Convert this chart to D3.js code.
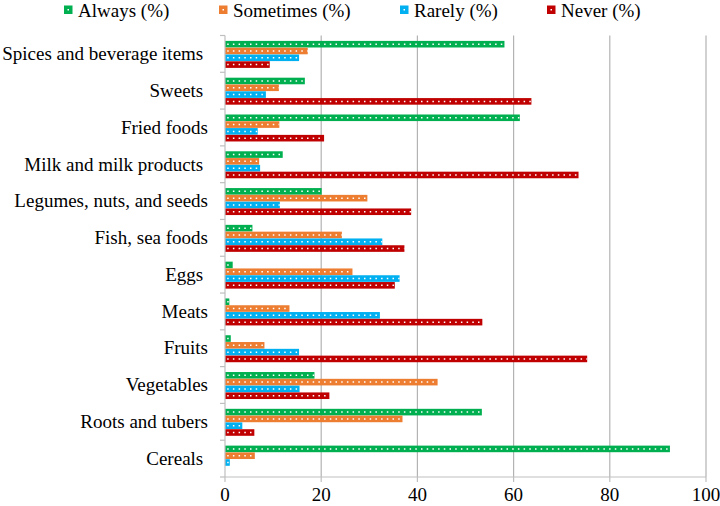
<!DOCTYPE html>
<html>
<head>
<meta charset="utf-8">
<script src="https://cdn.jsdelivr.net/npm/d3@7"></script>
<style>
  body { margin: 0; background: #fff; }
  svg text { font-family: "Liberation Serif", "DejaVu Serif", serif; fill: #000; }
</style>
</head>
<body>
<svg width="720" height="506"></svg>
<script>
// food groups, top to bottom
const categories = ["Spices and beverage items ", "Sweets ", "Fried foods", "Milk and milk products ",
  "Legumes, nuts, and seeds", "Fish, sea foods", "Eggs ", "Meats", "Fruits", "Vegetables",
  "Roots and tubers", "Cereals "]
const seriesNames = ["Always (%)", "Sometimes (%)", "Rarely (%)", "Never (%)"]
const always    = [58.1, 16.6, 61.3, 12.0, 20.1, 5.7, 1.6, 0.9, 1.2, 18.6, 53.4, 92.5]
const sometimes = [17.2, 11.2, 11.3, 7.1, 29.6, 24.3, 26.5, 13.4, 8.2, 44.2, 36.9, 6.2]
const rarely    = [15.4, 8.5, 6.8, 7.3, 11.4, 32.7, 36.3, 32.2, 15.4, 15.5, 3.6, 1.0]
const never     = [9.3, 63.7, 20.6, 73.5, 38.7, 37.3, 35.3, 53.5, 75.3, 21.7, 6.1, 0]
const xTicks = [0, 20, 40, 60, 80, 100]
const colors = ["#00b050", "#ed7d31", "#00b0f0", "#c00000"]

const values = [always, sometimes, rarely, never]

const svg = d3.select("svg")
const plotLeft = 225, plotRight = 706, plotTop = 35.5, plotBottom = 477

const x = d3.scaleLinear().domain([0, 100]).range([plotLeft, plotRight])
const y0 = d3.scaleBand().domain(categories).range([plotTop, plotBottom])
const y1 = d3.scaleBand().domain(seriesNames).range([5.4, y0.bandwidth() - 4.4]).paddingInner(0.03)
const color = d3.scaleOrdinal().domain(seriesNames).range(colors)

// vertical gridlines
svg.append("g")
  .selectAll("line")
  .data(xTicks.slice(1))
  .enter()
  .append("line")
  .attr("x1", d => x(d)).attr("x2", d => x(d))
  .attr("y1", plotTop).attr("y2", plotBottom)
  .attr("stroke", "#b3b3b3")
  .attr("stroke-width", 1.2)

// bars
const groups = svg.selectAll("g.cat")
  .data(categories)
  .enter()
  .append("g")
  .attr("class", "cat")
  .attr("transform", d => `translate(0, ${y0(d)})`)

const bars = groups.selectAll("g.bar")
  .data((d, i) => seriesNames.map((s, j) => ({ s: s, v: values[j][i] })))
  .enter()
  .append("g")
  .attr("class", "bar")
  .filter(d => d.v > 0)

bars.append("rect")
  .attr("x", x(0))
  .attr("y", d => y1(d.s))
  .attr("width", d => x(d.v) - x(0))
  .attr("height", y1.bandwidth())
  .attr("fill", d => color(d.s))

// dotted pattern
bars.append("line")
  .attr("x1", x(0) + 2.2)
  .attr("x2", d => x(d.v))
  .attr("y1", d => y1(d.s) + y1.bandwidth() / 2)
  .attr("y2", d => y1(d.s) + y1.bandwidth() / 2)
  .attr("stroke", "#fff")
  .attr("stroke-width", 1.5)
  .attr("stroke-dasharray", "1.5 4.2")

// left axis
const axisColor = "#bfbfbf"
svg.append("line")
  .attr("x1", plotLeft).attr("x2", plotLeft)
  .attr("y1", plotTop).attr("y2", plotBottom)
  .attr("stroke", axisColor).attr("stroke-width", 1.2)

svg.append("g")
  .selectAll("line")
  .data(categories.map(c => y0(c)).concat([plotBottom]))
  .enter()
  .append("line")
  .attr("x1", plotLeft - 5).attr("x2", plotLeft)
  .attr("y1", d => d).attr("y2", d => d)
  .attr("stroke", axisColor).attr("stroke-width", 1.2)

svg.append("g")
  .selectAll("text")
  .data(categories)
  .enter()
  .append("text")
  .attr("x", 208)
  .attr("y", d => y0(d) + y0.bandwidth() / 2)
  .attr("dy", "0.33em")
  .attr("text-anchor", "end")
  .style("white-space", "pre")
  .style("font-size", "19px")
  .text(d => d)

// bottom axis
svg.append("line")
  .attr("x1", plotLeft).attr("x2", plotRight)
  .attr("y1", plotBottom).attr("y2", plotBottom)
  .attr("stroke", axisColor).attr("stroke-width", 1.2)

svg.append("g")
  .selectAll("line")
  .data(xTicks)
  .enter()
  .append("line")
  .attr("x1", d => x(d)).attr("x2", d => x(d))
  .attr("y1", plotBottom).attr("y2", plotBottom + 5)
  .attr("stroke", axisColor).attr("stroke-width", 1.2)

svg.append("g")
  .selectAll("text")
  .data(xTicks)
  .enter()
  .append("text")
  .attr("x", d => x(d))
  .attr("y", 501)
  .attr("text-anchor", "middle")
  .style("font-size", "19px")
  .text(d => d)

// legend
const legendX = [64, 219, 400, 547]
const legend = svg.selectAll("g.legend")
  .data(seriesNames)
  .enter()
  .append("g")
  .attr("class", "legend")
  .attr("transform", (d, i) => `translate(${legendX[i]}, 0)`)

legend.append("rect")
  .attr("x", 0).attr("y", 5.5)
  .attr("width", 8.5).attr("height", 8.5)
  .attr("fill", d => color(d))

legend.append("rect")
  .attr("x", 3.5).attr("y", 9)
  .attr("width", 1.5).attr("height", 1.5)
  .attr("fill", "#fff")

legend.append("text")
  .attr("x", 14)
  .attr("y", 17)
  .style("font-size", "19px")
  .text(d => d)
</script>
</body>
</html>
